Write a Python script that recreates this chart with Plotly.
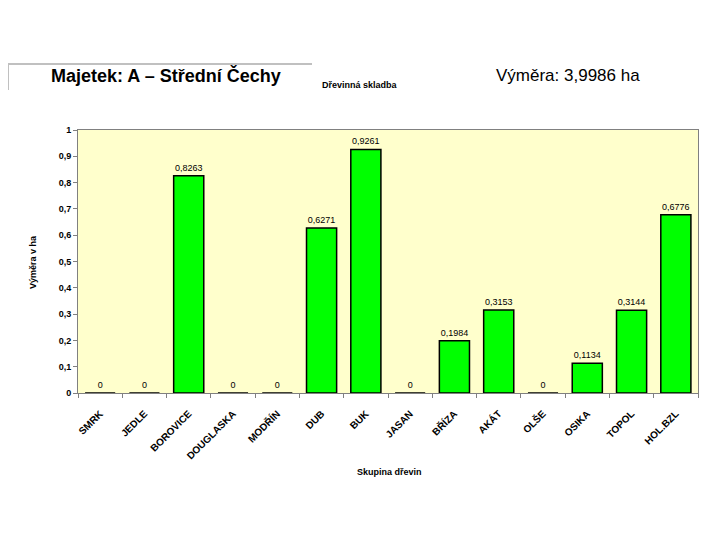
import plotly.graph_objects as go

# Skupiny dřevin a výměry (ha)
dreviny = ["SMRK", "JEDLE", "BOROVICE", "DOUGLASKA", "MODŘÍN", "DUB", "BUK",
           "JASAN", "BŘÍZA", "AKÁT", "OLŠE", "OSIKA", "TOPOL", "HOL.BZL"]
vymera = [0, 0, 0.8263, 0, 0, 0.6271, 0.9261,
          0, 0.1984, 0.3153, 0, 0.1134, 0.3144, 0.6776]
y_ticks = [0, 0.1, 0.2, 0.3, 0.4, 0.5, 0.6, 0.7, 0.8, 0.9, 1]
y_labels = ["0", "0,1", "0,2", "0,3", "0,4", "0,5", "0,6", "0,7", "0,8", "0,9", "1"]

# stránka má okraj 8 px, proto je graf o 16 px menší a posunutý
OFF = 8
W, H = 720 - 2 * OFF, 540 - 2 * OFF
L, R, T, B = 78 - OFF, 22 - OFF, 130 - OFF, 147 - OFF
pw, ph = W - L - R, H - T - B


def px(x):
    return (x - OFF - L) / pw


def py(y):
    return (H - B - (y - OFF)) / ph


fig = go.Figure()
fig.add_trace(go.Bar(
    x=dreviny, y=vymera,
    marker=dict(color="#00FF00", line=dict(color="black", width=1.5)),
    width=0.68,
    text=[f"{v:g}".replace(".", ",") for v in vymera],
    textposition="outside",
    textfont=dict(family="Arial", size=9, color="black"),
    cliponaxis=False,
))

font_b = dict(family="Arial", color="black")

fig.update_layout(
    width=W, height=H,
    margin=dict(l=L, r=R, t=T, b=B),
    paper_bgcolor="white",
    plot_bgcolor="#FFFFCC",
    showlegend=False,
    font=dict(family="Arial", size=9, color="black"),
)
fig.update_xaxes(
    tickangle=-45,
    tickfont=dict(family="Arial", size=10, color="black", weight="bold"),
    ticks="outside", ticklen=4, tickcolor="#808080", tickson="boundaries",
    ticklabelstandoff=10,
    showline=True, linecolor="#808080", linewidth=1, mirror=True,
    showgrid=False,
)
fig.update_yaxes(
    range=[0, 1], tickvals=y_ticks, ticktext=y_labels,
    tickfont=dict(family="Arial", size=9, color="black", weight="bold"),
    ticks="outside", ticklen=4, tickcolor="#808080",
    showline=True, linecolor="#808080", linewidth=1, mirror=True,
    showgrid=False, zeroline=False,
)

# Popisky os a nadpisy
ann = [
    dict(text="<b>Výměra v ha</b>", x=px(33), y=py(262), textangle=-90,
         font=dict(size=9, **font_b)),
    dict(text="<b>Skupina dřevin</b>", x=px(389), y=py(472),
         font=dict(size=9, **font_b)),
    dict(text="<b>Dřevinná skladba</b>", x=px(360), y=py(85),
         font=dict(size=9, **font_b)),
    dict(text="<b>Majetek: A – Střední Čechy</b>", x=px(166), y=py(75),
         font=dict(size=18, **font_b)),
    dict(text="Výměra: 3,9986 ha", x=px(568), y=py(75),
         font=dict(size=17, **font_b)),
]
for a in ann:
    fig.add_annotation(xref="paper", yref="paper", showarrow=False,
                       xanchor="center", yanchor="middle", **a)

# Rámeček kolem nadpisu
fig.add_shape(type="line", xref="paper", yref="paper",
              x0=px(8), x1=px(312), y0=py(64), y1=py(64),
              line=dict(color="#C0C0C0", width=2))
fig.add_shape(type="line", xref="paper", yref="paper",
              x0=px(8), x1=px(8), y0=py(64), y1=py(90),
              line=dict(color="#C0C0C0", width=2))

fig.write_html("out.html")
